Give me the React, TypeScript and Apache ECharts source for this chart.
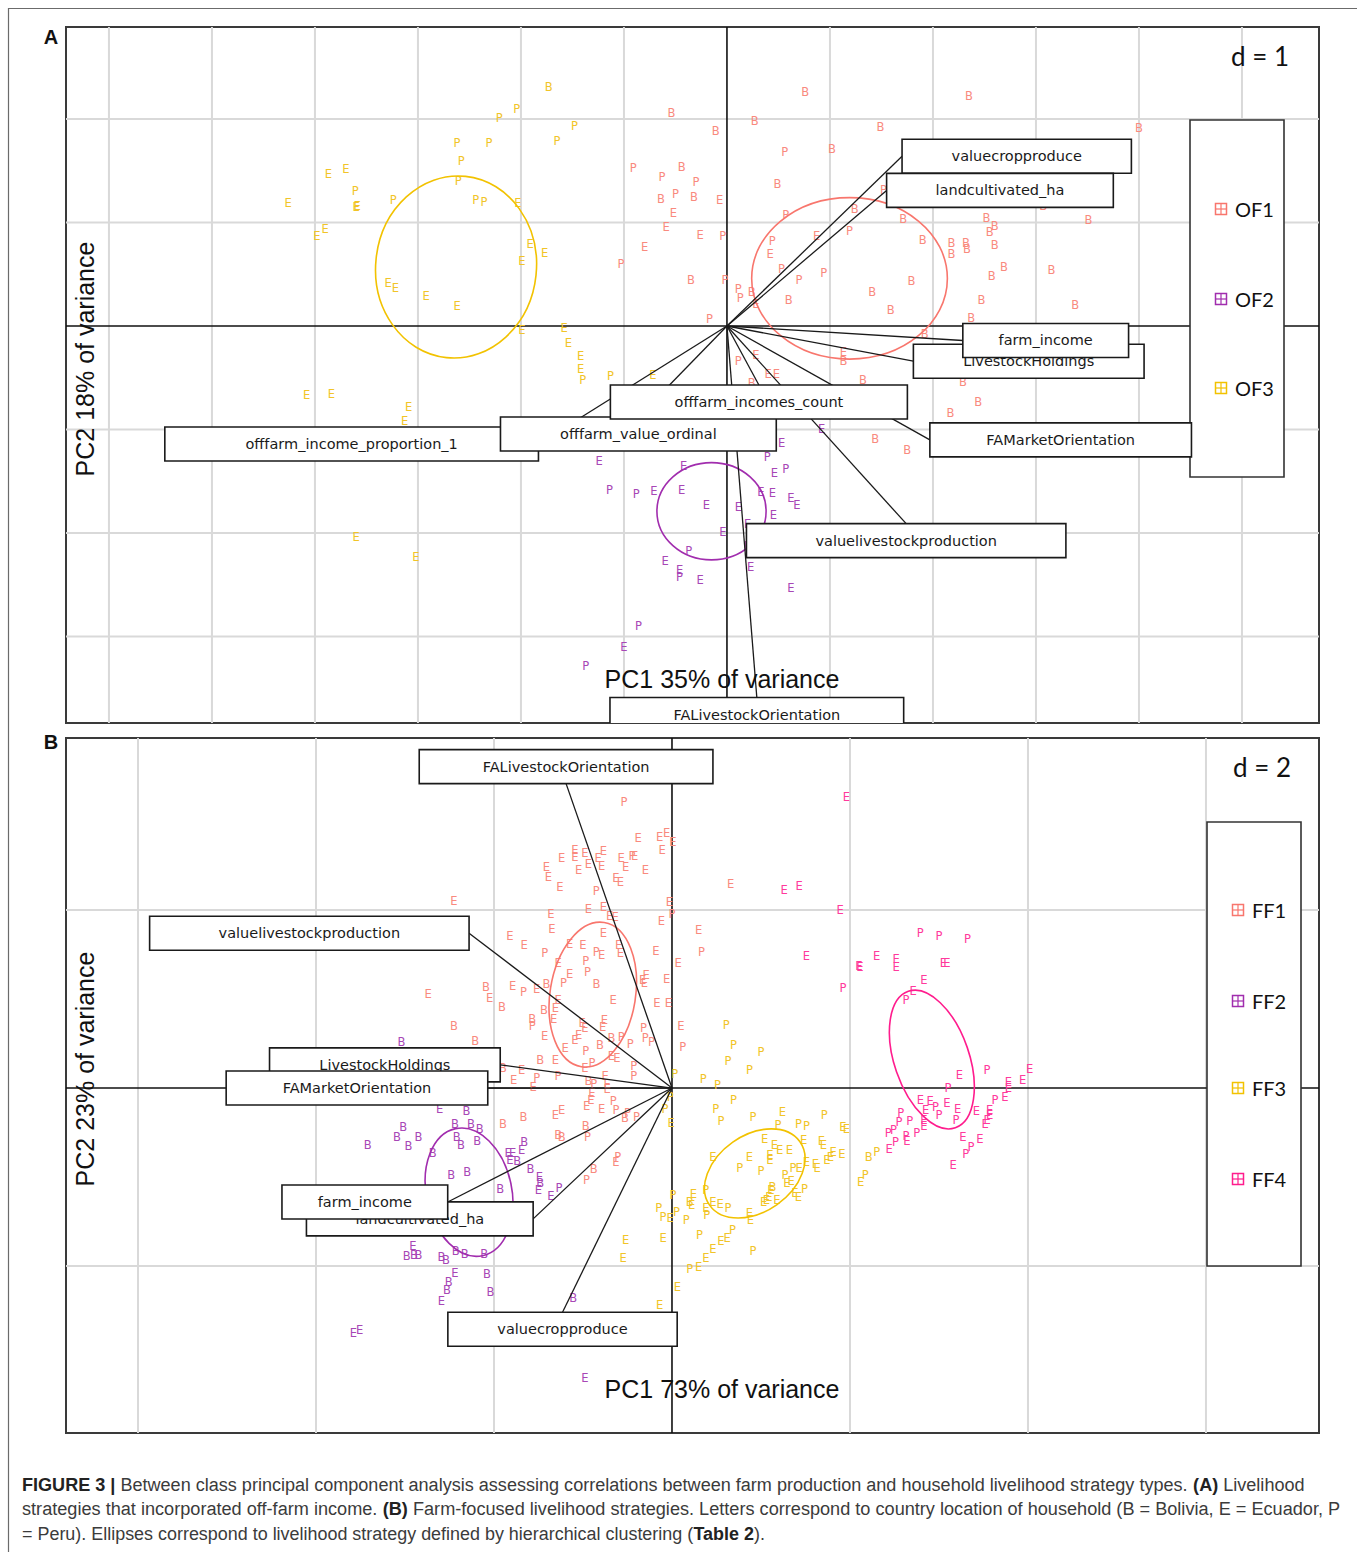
import React, { useEffect, useRef } from 'react';
import * as echarts from 'echarts';

type Pt = [number, number, string];
type Arrow = [string, number, number];
type Ell = [number, number, number, number, number];

// ---------- Panel A (d = 1) ----------
const A_X_RANGE: [number, number] = [-6.417, 5.748];
const A_Y_RANGE: [number, number] = [-3.836, 2.889];
const A_GRID_X = [-6, -5, -4, -3, -2, -1, 1, 2, 3, 4, 5];
const A_GRID_Y = [-3, -2, -1, 1, 2];
const A_GROUPS = ['OF1', 'OF2', 'OF3'];
const A_X_TITLE = 'PC1 35% of variance';
const A_Y_TITLE = 'PC2 18% of variance';

const OF1_A: Pt[] = [
  [-0.54, 2.06, 'B'], [-0.11, 1.88, 'B'], [-0.91, 1.53, 'P'], [-0.44, 1.54, 'B'], [-0.63, 1.44, 'P'], [-0.30, 1.39, 'P'],
  [-0.64, 1.23, 'B'], [-0.50, 1.28, 'P'], [-0.32, 1.25, 'B'], [-0.07, 1.22, 'E'], [-0.52, 1.09, 'E'], [-0.59, 0.96, 'E'],
  [-0.26, 0.88, 'E'], [-0.04, 0.87, 'P'], [-0.80, 0.76, 'E'], [-1.03, 0.60, 'P'], [-0.35, 0.44, 'B'], [-0.02, 0.44, 'P'],
  [-0.17, 0.07, 'P'], [0.76, 2.26, 'B'], [2.35, 2.22, 'B'], [0.27, 1.98, 'B'], [1.49, 1.92, 'B'], [4.00, 1.91, 'B'],
  [0.56, 1.68, 'P'], [1.02, 1.71, 'B'], [0.49, 1.37, 'B'], [1.52, 1.31, 'P'], [3.07, 1.16, 'B'], [0.57, 1.07, 'P'],
  [1.24, 1.13, 'B'], [1.71, 1.03, 'B'], [2.52, 1.04, 'B'], [2.60, 0.97, 'B'], [2.55, 0.91, 'B'], [3.51, 1.02, 'B'],
  [1.19, 0.92, 'P'], [0.87, 0.87, 'E'], [0.44, 0.82, 'P'], [0.42, 0.70, 'E'], [1.90, 0.83, 'B'], [2.18, 0.80, 'B'],
  [2.32, 0.80, 'B'], [2.18, 0.70, 'B'], [2.33, 0.74, 'B'], [2.60, 0.78, 'B'], [2.69, 0.57, 'B'], [3.15, 0.54, 'B'],
  [2.57, 0.48, 'B'], [0.53, 0.55, 'P'], [0.94, 0.51, 'P'], [0.70, 0.44, 'P'], [1.79, 0.43, 'B'], [1.41, 0.33, 'B'],
  [0.60, 0.25, 'B'], [1.59, 0.15, 'B'], [2.47, 0.25, 'B'], [3.38, 0.20, 'B'], [2.37, 0.08, 'B'], [0.11, 0.36, 'P'],
  [0.13, 0.27, 'P'], [0.24, 0.33, 'B'], [0.28, 0.21, 'E'], [1.92, -0.08, 'B'], [1.13, -0.25, 'E'], [1.13, -0.34, 'B'],
  [0.11, -0.34, 'P'], [0.28, -0.28, 'E'], [0.40, -0.46, 'E'], [0.48, -0.46, 'E'], [1.32, -0.52, 'B'], [2.29, -0.54, 'B'],
  [2.44, -0.73, 'B'], [2.17, -0.84, 'B'], [0.24, -0.55, 'B'], [1.44, -1.09, 'B'], [1.75, -1.20, 'B'],
];

const OF2_A: Pt[] = [
  [0.92, -1.00, 'E'], [0.53, -1.13, 'E'], [0.39, -1.27, 'P'], [0.46, -1.42, 'E'], [0.57, -1.38, 'P'], [-1.14, -1.58, 'P'],
  [-0.88, -1.62, 'P'], [-0.71, -1.59, 'E'], [-0.44, -1.58, 'E'], [-0.42, -1.35, 'E'], [-1.24, -1.30, 'E'], [0.33, -1.60, 'E'],
  [0.44, -1.61, 'E'], [0.62, -1.66, 'E'], [0.68, -1.73, 'E'], [-0.20, -1.73, 'E'], [0.11, -1.75, 'E'], [0.45, -1.83, 'E'],
  [0.20, -1.91, 'E'], [-0.04, -1.99, 'E'], [0.20, -2.13, 'E'], [-0.37, -2.17, 'P'], [-0.60, -2.27, 'E'], [-0.46, -2.36, 'E'],
  [-0.46, -2.43, 'P'], [-0.26, -2.45, 'E'], [0.23, -2.33, 'E'], [0.62, -2.53, 'E'], [-0.86, -2.90, 'P'], [-1.00, -3.10, 'E'],
  [-1.37, -3.29, 'P'],
];

const OF3_A: Pt[] = [
  [-1.73, 2.31, 'B'], [-2.04, 2.10, 'P'], [-2.21, 2.01, 'P'], [-1.48, 1.93, 'P'], [-1.65, 1.79, 'P'], [-2.62, 1.77, 'P'],
  [-2.31, 1.77, 'P'], [-2.58, 1.59, 'P'], [-3.70, 1.52, 'E'], [-3.87, 1.47, 'E'], [-2.61, 1.40, 'P'], [-3.61, 1.30, 'P'],
  [-3.24, 1.22, 'P'], [-2.44, 1.22, 'P'], [-2.36, 1.20, 'P'], [-4.26, 1.19, 'E'], [-3.60, 1.15, 'E'], [-3.59, 1.16, 'E'],
  [-2.03, 1.19, 'E'], [-3.90, 0.94, 'E'], [-3.98, 0.87, 'E'], [-1.91, 0.79, 'E'], [-1.77, 0.71, 'E'], [-1.99, 0.63, 'E'],
  [-3.29, 0.42, 'E'], [-3.22, 0.37, 'E'], [-2.92, 0.29, 'E'], [-2.62, 0.19, 'E'], [-1.99, -0.04, 'E'], [-1.58, -0.02, 'E'],
  [-1.54, -0.16, 'E'], [-1.42, -0.29, 'E'], [-1.42, -0.42, 'E'], [-1.40, -0.52, 'P'], [-1.13, -0.48, 'P'], [-0.72, -0.47, 'E'],
  [-4.08, -0.67, 'E'], [-3.84, -0.66, 'E'], [-3.09, -0.78, 'E'], [-3.13, -0.92, 'E'], [-3.60, -2.04, 'E'], [-3.02, -2.23, 'E'],
];

// cx, cy, rx, ry, rotation (deg, anticlockwise)
const ELLIPSES_A: Ell[] = [
  [1.19, 0.46, 0.95, 0.78, 0],
  [-0.15, -1.79, 0.53, 0.47, 0],
  [-2.63, 0.57, 0.78, 0.88, -6],
];

// drawing order = stacking order of the label boxes
const ARROWS_A: Arrow[] = [
  ['valuecropproduce', 1.70, 1.64],
  ['landcultivated_ha', 1.55, 1.31],
  ['LivestockHoldings', 1.81, -0.34],
  ['farm_income', 2.29, -0.14],
  ['FAMarketOrientation', 1.97, -1.10],
  ['valuelivestockproduction', 1.74, -1.91],
  ['offfarm_income_proportion_1', -1.83, -1.14],
  ['offfarm_value_ordinal', -0.86, -0.88],
  ['offfarm_incomes_count', 0.31, -0.57],
  ['FALivestockOrientation', 0.29, -3.59],
];

// ---------- Panel B (d = 2) ----------
const B_X_RANGE: [number, number] = [-6.809, 7.27];
const B_Y_RANGE: [number, number] = [-3.876, 3.933];
const B_GRID_X = [-6, -4, -2, 2, 4, 6];
const B_GRID_Y = [-2, 2];
const B_GROUPS = ['FF1', 'FF2', 'FF3', 'FF4'];
const B_X_TITLE = 'PC1 73% of variance';
const B_Y_TITLE = 'PC2 23% of variance';

const FF1_B: Pt[] = [
  [-0.54, 3.21, 'P'], [-2.45, 2.10, 'E'], [-0.38, 2.81, 'E'], [-0.14, 2.82, 'E'], [-0.06, 2.86, 'E'], [0.01, 2.76, 'E'],
  [-0.11, 2.68, 'E'], [-1.09, 2.67, 'E'], [-1.09, 2.60, 'E'], [-0.98, 2.64, 'E'], [-1.24, 2.59, 'E'], [-0.77, 2.66, 'E'],
  [-0.83, 2.58, 'E'], [-0.79, 2.49, 'E'], [-0.94, 2.52, 'E'], [-1.05, 2.45, 'E'], [-0.57, 2.58, 'E'], [-0.45, 2.61, 'P'],
  [-0.42, 2.61, 'E'], [-0.52, 2.48, 'E'], [-0.30, 2.45, 'E'], [-1.41, 2.48, 'E'], [-1.39, 2.37, 'E'], [-1.26, 2.26, 'E'],
  [-0.63, 2.36, 'E'], [-0.58, 2.31, 'E'], [-0.85, 2.21, 'P'], [-0.03, 2.09, 'E'], [-0.94, 2.01, 'E'], [-0.77, 2.03, 'E'],
  [-1.36, 1.96, 'E'], [-1.35, 1.79, 'E'], [-0.70, 1.93, 'E'], [-0.64, 1.92, 'E'], [-0.12, 1.88, 'E'], [0.00, 1.96, 'P'],
  [0.30, 1.78, 'E'], [-1.82, 1.71, 'E'], [-1.66, 1.61, 'E'], [-0.77, 1.74, 'E'], [-1.15, 1.62, 'E'], [-1.00, 1.61, 'E'],
  [-1.43, 1.52, 'P'], [-0.85, 1.53, 'P'], [-0.79, 1.49, 'E'], [-0.60, 1.61, 'E'], [-0.18, 1.54, 'E'], [-0.58, 1.52, 'E'],
  [0.66, 2.29, 'E'], [0.33, 1.53, 'P'], [0.07, 1.40, 'E'], [-0.29, 1.27, 'E'], [-0.33, 1.21, 'E'], [-0.06, 1.23, 'E'],
  [-0.66, 0.99, 'E'], [-0.17, 0.96, 'E'], [-0.04, 0.96, 'E'], [-2.74, 1.06, 'E'], [-2.09, 1.13, 'B'], [-2.05, 1.01, 'E'],
  [-1.91, 0.91, 'B'], [-2.45, 0.70, 'B'], [-2.21, 0.53, 'B'], [-1.79, 1.15, 'E'], [-1.67, 1.08, 'P'], [-1.52, 1.11, 'E'],
  [-1.41, 1.17, 'B'], [-1.28, 1.41, 'E'], [-0.97, 1.43, 'P'], [-1.15, 1.28, 'E'], [-1.22, 1.18, 'P'], [-0.95, 1.30, 'P'],
  [-0.85, 1.17, 'B'], [-1.28, 0.99, 'E'], [-1.31, 0.90, 'E'], [-1.44, 0.88, 'B'], [-1.33, 0.78, 'E'], [-1.57, 0.78, 'B'],
  [-1.57, 0.70, 'P'], [-1.01, 0.73, 'E'], [-0.98, 0.68, 'E'], [-0.76, 0.76, 'E'], [-0.78, 0.69, 'E'], [-1.43, 0.58, 'E'],
  [-1.09, 0.54, 'E'], [-1.05, 0.60, 'E'], [-0.97, 0.42, 'P'], [-0.81, 0.48, 'B'], [-0.68, 0.56, 'B'], [-0.57, 0.57, 'P'],
  [-0.47, 0.49, 'P'], [-1.20, 0.45, 'E'], [-0.68, 0.36, 'E'], [-0.62, 0.34, 'E'], [-1.31, 0.32, 'E'], [-1.48, 0.31, 'B'],
  [-1.90, 0.23, 'B'], [-1.69, 0.20, 'E'], [-1.78, 0.09, 'E'], [-1.52, 0.11, 'P'], [-1.28, 0.13, 'P'], [-0.98, 0.22, 'E'],
  [-0.90, 0.28, 'P'], [-0.43, 0.25, 'P'], [-0.43, 0.13, 'P'], [-0.75, 0.13, 'E'], [-0.73, 0.05, 'E'], [-0.73, -0.01, 'E'],
  [-0.94, 0.08, 'B'], [-0.88, 0.05, 'P'], [-1.56, 0.01, 'E'], [-0.90, -0.06, 'E'], [-0.91, -0.13, 'E'], [-0.96, -0.20, 'E'],
  [-0.66, -0.15, 'P'], [-0.79, -0.24, 'E'], [-0.63, -0.25, 'P'], [-0.50, -0.28, 'P'], [-0.53, -0.34, 'B'], [-0.40, -0.32, 'P'],
  [-1.24, -0.25, 'E'], [-1.31, -0.30, 'E'], [-1.67, -0.32, 'B'], [-1.90, -0.40, 'B'], [-0.31, 1.18, 'E'], [0.10, 0.70, 'E'],
  [0.12, 0.46, 'P'], [-0.32, 0.67, 'P'], [-0.30, 0.56, 'P'], [-0.23, 0.52, 'P'], [-0.97, -0.43, 'B'], [-0.95, -0.55, 'P'],
  [-1.28, -0.53, 'B'], [-1.24, -0.55, 'B'], [-0.61, -0.77, 'P'], [-0.63, -0.83, 'E'], [-0.88, -0.91, 'B'], [-0.96, -1.03, 'P'],
];

const FF2_B: Pt[] = [
  [-3.04, 0.52, 'B'], [-2.61, -0.23, 'E'], [-2.31, -0.26, 'B'], [-3.02, -0.44, 'B'], [-3.09, -0.55, 'B'], [-2.96, -0.65, 'B'],
  [-2.85, -0.55, 'B'], [-3.42, -0.64, 'B'], [-2.44, -0.40, 'B'], [-2.26, -0.40, 'B'], [-2.16, -0.46, 'B'], [-2.42, -0.55, 'B'],
  [-2.37, -0.64, 'B'], [-2.19, -0.59, 'B'], [-2.69, -0.73, 'B'], [-2.48, -0.98, 'B'], [-2.30, -0.94, 'B'], [-1.82, -0.81, 'E'],
  [-1.84, -0.73, 'E'], [-1.74, -0.82, 'B'], [-1.79, -0.73, 'E'], [-1.69, -0.70, 'E'], [-1.66, -0.61, 'B'], [-1.59, -0.91, 'B'],
  [-1.49, -1.00, 'E'], [-1.48, -1.07, 'B'], [-1.50, -1.15, 'E'], [-1.36, -1.21, 'E'], [-1.27, -1.12, 'P'], [-1.93, -1.14, 'B'],
  [-2.91, -1.78, 'E'], [-2.98, -1.89, 'B'], [-2.90, -1.88, 'B'], [-2.85, -1.88, 'B'], [-2.59, -1.90, 'B'], [-2.54, -1.93, 'B'],
  [-2.43, -1.83, 'B'], [-2.33, -1.87, 'B'], [-2.11, -1.86, 'B'], [-2.44, -2.08, 'E'], [-2.51, -2.18, 'B'], [-2.53, -2.27, 'B'],
  [-2.59, -2.39, 'E'], [-2.08, -2.09, 'B'], [-2.04, -2.29, 'B'], [-1.11, -2.36, 'B'], [-3.58, -2.75, 'E'], [-3.51, -2.72, 'E'],
  [-0.98, -3.26, 'E'],
];

const FF3_B: Pt[] = [
  [0.61, 0.71, 'P'], [0.69, 0.48, 'P'], [1.00, 0.41, 'P'], [0.63, 0.30, 'P'], [0.87, 0.20, 'P'], [0.03, 0.16, 'P'],
  [0.35, 0.10, 'P'], [0.51, 0.03, 'P'], [0.69, -0.13, 'P'], [-0.02, -0.10, 'P'], [-0.08, -0.23, 'P'], [-0.01, -0.39, 'E'],
  [0.49, -0.24, 'P'], [0.55, -0.37, 'P'], [0.91, -0.33, 'P'], [1.24, -0.27, 'E'], [1.71, -0.30, 'P'], [1.19, -0.42, 'P'],
  [1.42, -0.40, 'P'], [1.51, -0.43, 'P'], [1.92, -0.44, 'E'], [1.96, -0.46, 'E'], [1.04, -0.57, 'E'], [1.15, -0.64, 'E'],
  [1.21, -0.70, 'E'], [1.32, -0.70, 'E'], [1.10, -0.75, 'E'], [1.10, -0.81, 'E'], [1.48, -0.58, 'E'], [1.68, -0.60, 'E'],
  [1.70, -0.64, 'E'], [1.81, -0.72, 'E'], [1.91, -0.74, 'E'], [1.78, -0.77, 'E'], [1.74, -0.81, 'E'], [1.51, -0.83, 'E'],
  [1.61, -0.85, 'E'], [1.63, -0.90, 'E'], [0.46, -0.77, 'E'], [0.87, -0.78, 'E'], [0.76, -0.90, 'P'], [1.00, -0.93, 'P'],
  [1.27, -0.98, 'P'], [1.36, -0.90, 'P'], [1.43, -0.90, 'E'], [1.34, -1.05, 'E'], [1.29, -1.07, 'E'], [1.49, -1.13, 'P'],
  [1.38, -1.18, 'E'], [1.42, -1.22, 'E'], [1.13, -1.11, 'B'], [1.11, -1.15, 'E'], [1.09, -1.22, 'E'], [1.06, -1.26, 'E'],
  [1.03, -1.28, 'E'], [1.18, -1.26, 'E'], [0.46, -1.28, 'E'], [0.54, -1.30, 'E'], [0.63, -1.35, 'P'], [0.87, -1.40, 'E'],
  [0.88, -1.48, 'E'], [2.21, -0.78, 'B'], [2.30, -0.72, 'P'], [2.12, -1.06, 'E'], [2.17, -0.98, 'P'], [0.38, -1.15, 'P'],
  [0.24, -1.19, 'E'], [0.20, -1.28, 'B'], [0.22, -1.31, 'E'], [0.01, -1.20, 'P'], [-0.15, -1.35, 'P'], [-0.10, -1.45, 'P'],
  [-0.02, -1.46, 'E'], [0.05, -1.39, 'P'], [0.16, -1.48, 'P'], [0.39, -1.43, 'P'], [0.38, -1.35, 'E'], [0.31, -1.65, 'P'],
  [-0.10, -1.69, 'E'], [0.68, -1.59, 'P'], [0.62, -1.69, 'E'], [0.55, -1.72, 'E'], [0.46, -1.81, 'E'], [0.38, -1.91, 'E'],
  [0.30, -2.01, 'E'], [0.20, -2.03, 'P'], [0.91, -1.83, 'P'], [-0.52, -1.71, 'E'], [-0.55, -1.91, 'E'], [0.06, -2.24, 'E'],
  [-0.14, -2.44, 'E'],
];

const FF4_B: Pt[] = [
  [1.96, 3.27, 'E'], [1.26, 2.22, 'E'], [1.43, 2.27, 'E'], [1.89, 2.00, 'E'], [1.51, 1.48, 'E'], [2.10, 1.37, 'E'],
  [2.11, 1.36, 'E'], [2.30, 1.48, 'E'], [2.52, 1.45, 'E'], [2.52, 1.36, 'E'], [2.79, 1.74, 'P'], [3.00, 1.71, 'P'],
  [3.32, 1.67, 'P'], [3.05, 1.41, 'E'], [3.09, 1.41, 'E'], [2.83, 1.21, 'E'], [1.92, 1.12, 'P'], [2.71, 1.09, 'E'],
  [2.63, 0.99, 'P'], [3.23, 0.15, 'E'], [3.54, 0.20, 'P'], [3.78, 0.07, 'E'], [3.78, 0.00, 'E'], [3.94, 0.09, 'E'],
  [4.02, 0.21, 'E'], [3.10, 0.00, 'P'], [3.74, -0.10, 'E'], [3.63, -0.13, 'P'], [2.79, -0.13, 'E'], [2.90, -0.15, 'E'],
  [2.96, -0.21, 'P'], [3.09, -0.17, 'E'], [3.21, -0.23, 'E'], [2.85, -0.25, 'E'], [3.00, -0.30, 'P'], [3.42, -0.26, 'E'],
  [3.57, -0.25, 'E'], [3.57, -0.30, 'E'], [3.54, -0.36, 'E'], [3.52, -0.40, 'E'], [3.19, -0.36, 'P'], [2.83, -0.36, 'E'],
  [2.83, -0.43, 'E'], [2.57, -0.28, 'P'], [2.55, -0.38, 'P'], [2.67, -0.37, 'P'], [2.49, -0.47, 'P'], [2.43, -0.51, 'P'],
  [2.63, -0.54, 'P'], [2.75, -0.51, 'P'], [2.64, -0.60, 'E'], [2.51, -0.61, 'P'], [2.44, -0.68, 'E'], [3.27, -0.55, 'E'],
  [3.46, -0.57, 'E'], [3.36, -0.66, 'P'], [3.30, -0.74, 'P'], [3.16, -0.86, 'E'],
];

const ELLIPSES_B: Ell[] = [
  [-0.89, 1.05, 0.48, 0.82, -9],
  [-2.28, -1.17, 0.48, 0.73, 12],
  [0.93, -0.96, 0.62, 0.43, 35],
  [2.92, 0.32, 0.42, 0.81, 19],
];

const ARROWS_B: Arrow[] = [
  ['FALivestockOrientation', -1.19, 3.42],
  ['valuelivestockproduction', -2.28, 1.74],
  ['LivestockHoldings', -1.93, 0.26],
  ['FAMarketOrientation', -2.07, 0.0],
  ['landcultivated_ha', -1.56, -1.47],
  ['farm_income', -2.52, -1.28],
  ['valuecropproduce', -1.23, -2.52],
];

const CAPTION_LINES = [
  '{b|FIGURE 3 |} Between class principal component analysis assessing correlations between farm production and household livelihood strategy types. {b|(A)} Livelihood',
  'strategies that incorporated off-farm income. {b|(B)} Farm-focused livelihood strategies. Letters correspond to country location of household (B = Bolivia, E = Ecuador, P',
  '= Peru). Ellipses correspond to livelihood strategy defined by hierarchical clustering ({b|Table 2}).',
];

// ---------- styles / layout ----------
const GROUP_COLORS = ['#F8766D', '#A12DAE', '#F2C200', '#FF1C8D'];
const LETTER_COLORS = ['#F98A7E', '#A847B6', '#F1C428', '#FF3A9C'];
const BOX_FONT_SIZE = 14.5;
const BOX_FONT_FAMILY = 'DejaVu Sans';
const BOX_W_FACTOR = 1.76;
const BOX_H = 34;
const SANS = "'Liberation Sans', Arial, sans-serif";
const CAP_SIZE = 19;
const CAP_FAMILY = "'Liberation Sans', Arial, sans-serif";
const CAP_LINE_WIDTHS = [1282, 1319, 743];

let measureCtx: any = null;
function textWidth(s: string, font: string): number {
  if (!measureCtx) measureCtx = document.createElement('canvas').getContext('2d');
  measureCtx.font = font;
  return measureCtx.measureText(s).width;
}

function richWidth(line: string): number {
  let w = 0;
  const re = /\{b\|([^}]*)\}/g;
  let last = 0;
  let m: RegExpExecArray | null;
  while ((m = re.exec(line))) {
    w += textWidth(line.slice(last, m.index), `${CAP_SIZE}px 'Liberation Sans'`);
    w += textWidth(m[1], `bold ${CAP_SIZE}px 'Liberation Sans'`);
    last = m.index + m[0].length;
  }
  w += textWidth(line.slice(last), `${CAP_SIZE}px 'Liberation Sans'`);
  return w;
}

function ruleSeries(xs: number[], ys: number[], idx: number, color: string, width: number, z: number) {
  const items: [number, number, number][] = [
    ...xs.map((v) => [v, 0, 0] as [number, number, number]),
    ...ys.map((v) => [0, v, 1] as [number, number, number]),
  ];
  return {
    type: 'custom', coordinateSystem: 'cartesian2d', xAxisIndex: idx, yAxisIndex: idx, z, silent: true,
    data: items.map((d) => [d[0], d[1]]),
    renderItem: (params: any, api: any) => {
      const it = items[params.dataIndex];
      const cs = params.coordSys;
      const p = api.coord([it[0], it[1]]);
      const shape = it[2] === 0
        ? { x1: p[0], y1: cs.y, x2: p[0], y2: cs.y + cs.height }
        : { x1: cs.x, y1: p[1], x2: cs.x + cs.width, y2: p[1] };
      return { type: 'line', shape, style: { stroke: color, lineWidth: width } };
    },
  };
}

function pointSeries(pts: Pt[], color: string, idx: number) {
  return {
    type: 'custom', coordinateSystem: 'cartesian2d', xAxisIndex: idx, yAxisIndex: idx, z: 3, silent: true, clip: true,
    data: pts.map((p) => [p[0], p[1]]),
    renderItem: (params: any, api: any) => {
      const c = api.coord([api.value(0), api.value(1)]);
      return {
        type: 'text', x: c[0], y: c[1],
        style: { text: pts[params.dataIndex][2], fill: color, fontSize: 11.5, fontFamily: 'DejaVu Sans', align: 'center', verticalAlign: 'middle' },
      };
    },
  };
}

function ellipseSeries(ells: Ell[], idx: number) {
  return {
    type: 'custom', coordinateSystem: 'cartesian2d', xAxisIndex: idx, yAxisIndex: idx, z: 4, silent: true, clip: true,
    data: ells.map((e) => [e[0], e[1]]),
    renderItem: (params: any, api: any) => {
      const e = ells[params.dataIndex];
      const c = api.coord([e[0], e[1]]);
      const s = api.size([e[2], e[3]]);
      return {
        type: 'ellipse', x: c[0], y: c[1], rotation: (e[4] * Math.PI) / 180,
        shape: { cx: 0, cy: 0, rx: s[0], ry: s[1] },
        style: { fill: 'none', stroke: GROUP_COLORS[params.dataIndex], lineWidth: 1.6 },
      };
    },
  };
}

function arrowLineSeries(arrows: Arrow[], idx: number) {
  return {
    type: 'custom', coordinateSystem: 'cartesian2d', xAxisIndex: idx, yAxisIndex: idx, z: 5, silent: true, clip: true,
    data: arrows.map((a) => [a[1], a[2]]),
    renderItem: (params: any, api: any) => {
      const o = api.coord([0, 0]);
      const t = api.coord([api.value(0), api.value(1)]);
      return { type: 'line', shape: { x1: o[0], y1: o[1], x2: t[0], y2: t[1] }, style: { stroke: '#1a1a1a', lineWidth: 1.3 } };
    },
  };
}

function boxSeries(arrows: Arrow[], idx: number) {
  return {
    type: 'custom', coordinateSystem: 'cartesian2d', xAxisIndex: idx, yAxisIndex: idx, z: 8, silent: true, clip: true,
    data: arrows.map((a) => [a[1], a[2]]),
    renderItem: (params: any, api: any) => {
      const a = arrows[params.dataIndex];
      const x = a[1];
      const y = a[2];
      const t = api.coord([x, y]);
      const w = textWidth(a[0], `${BOX_FONT_SIZE}px "${BOX_FONT_FAMILY}"`) * BOX_W_FACTOR;
      const h = BOX_H;
      let cx: number;
      let cy: number;
      if (x > y && x > -y) { cx = t[0] + w / 2; cy = t[1]; }
      else if (x > y) { cx = t[0]; cy = t[1] + h / 2; }
      else if (x <= -y) { cx = t[0] - w / 2; cy = t[1]; }
      else { cx = t[0]; cy = t[1] - h / 2; }
      return {
        type: 'group',
        children: [
          { type: 'rect', shape: { x: cx - w / 2, y: cy - h / 2, width: w, height: h }, style: { fill: '#fff', stroke: '#1a1a1a', lineWidth: 1.6 } },
          { type: 'text', x: cx, y: cy, style: { text: a[0], fill: '#1a1a1a', fontSize: BOX_FONT_SIZE, fontFamily: BOX_FONT_FAMILY, align: 'center', verticalAlign: 'middle' } },
        ],
      };
    },
  };
}

function legendGraphic(groups: string[], box: { x: number; y: number; width: number; height: number }, ys: number[], iconX: number) {
  const Z = 6;
  const children: any[] = [
    { type: 'rect', z: Z, shape: box, style: { fill: '#fff', stroke: '#333', lineWidth: 1.6 } },
  ];
  groups.forEach((g, i) => {
    const c = GROUP_COLORS[i];
    const y = ys[i];
    children.push({ type: 'rect', z: Z + 1, shape: { x: iconX - 5.5, y: y - 5.5, width: 11, height: 11 }, style: { fill: 'none', stroke: c, lineWidth: 1.5 } });
    children.push({ type: 'line', z: Z + 1, shape: { x1: iconX, y1: y - 5.5, x2: iconX, y2: y + 5.5 }, style: { stroke: c, lineWidth: 1.2 } });
    children.push({ type: 'line', z: Z + 1, shape: { x1: iconX - 5.5, y1: y, x2: iconX + 5.5, y2: y }, style: { stroke: c, lineWidth: 1.2 } });
    children.push({ type: 'text', z: Z + 1, x: iconX + 14, y, style: { text: g, fill: '#111', fontSize: 20, fontFamily: 'Lato, sans-serif', align: 'left', verticalAlign: 'middle' } });
  });
  return { type: 'group', z: Z, children };
}

function textGraphic(text: string, x: number, y: number, size: number, opts: any = {}) {
  return {
    type: 'text', z: 100, x, y, rotation: opts.rotation || 0,
    style: {
      text, fill: opts.fill || '#111', fontSize: size, fontFamily: opts.family || SANS,
      fontWeight: opts.weight || 'normal', align: opts.align || 'center', verticalAlign: 'middle',
    },
  };
}

function buildOption() {
  const captionGraphics = CAPTION_LINES.map((line, i) => {
    const w = richWidth(line);
    const sx = w > 0 ? CAP_LINE_WIDTHS[i] / w : 1;
    return {
      type: 'text', z: 100, x: 22, y: 1484 + i * 24.5, scaleX: Math.min(sx, 1.05),
      style: {
        text: line, fill: '#3b3b3b', fontSize: CAP_SIZE, fontFamily: CAP_FAMILY, align: 'left', verticalAlign: 'middle',
        rich: { b: { fontWeight: 'bold', fill: '#222', fontSize: CAP_SIZE, fontFamily: CAP_FAMILY } },
      },
    };
  });

  return {
    animation: false,
    backgroundColor: '#fff',
    grid: [
      { left: 66, top: 27, width: 1253, height: 696, show: true, backgroundColor: '#fff', borderColor: '#3a3a3a', borderWidth: 2 },
      { left: 66, top: 738, width: 1253, height: 695, show: true, backgroundColor: '#fff', borderColor: '#3a3a3a', borderWidth: 2 },
    ],
    xAxis: [
      { gridIndex: 0, type: 'value', min: A_X_RANGE[0], max: A_X_RANGE[1], show: false },
      { gridIndex: 1, type: 'value', min: B_X_RANGE[0], max: B_X_RANGE[1], show: false },
    ],
    yAxis: [
      { gridIndex: 0, type: 'value', min: A_Y_RANGE[0], max: A_Y_RANGE[1], show: false },
      { gridIndex: 1, type: 'value', min: B_Y_RANGE[0], max: B_Y_RANGE[1], show: false },
    ],
    series: [
      ruleSeries(A_GRID_X, A_GRID_Y, 0, '#d9d9d9', 2, 1),
      ruleSeries([0], [0], 0, '#111', 1.6, 2),
      pointSeries(OF1_A, LETTER_COLORS[0], 0),
      pointSeries(OF2_A, LETTER_COLORS[1], 0),
      pointSeries(OF3_A, LETTER_COLORS[2], 0),
      ellipseSeries(ELLIPSES_A, 0),
      arrowLineSeries(ARROWS_A, 0),
      boxSeries(ARROWS_A, 0),

      ruleSeries(B_GRID_X, B_GRID_Y, 1, '#d9d9d9', 2, 1),
      ruleSeries([0], [0], 1, '#111', 1.6, 2),
      pointSeries(FF1_B, LETTER_COLORS[0], 1),
      pointSeries(FF2_B, LETTER_COLORS[1], 1),
      pointSeries(FF3_B, LETTER_COLORS[2], 1),
      pointSeries(FF4_B, LETTER_COLORS[3], 1),
      ellipseSeries(ELLIPSES_B, 1),
      arrowLineSeries(ARROWS_B, 1),
      boxSeries(ARROWS_B, 1),
    ],
    graphic: [
      { type: 'rect', z: 90, shape: { x: 8.5, y: 8.5, width: 1400, height: 1600 }, style: { fill: 'none', stroke: '#6b6b6b', lineWidth: 1.2 } },
      textGraphic('A', 51, 37, 20, { weight: 'bold' }),
      textGraphic('B', 51, 742, 20, { weight: 'bold' }),
      textGraphic('d = 1', 1260, 56, 26, { family: 'Lato, sans-serif' }),
      textGraphic('d = 2', 1262, 767, 26, { family: 'Lato, sans-serif' }),
      textGraphic(A_X_TITLE, 722, 679, 25),
      textGraphic(B_X_TITLE, 722, 1389, 25),
      textGraphic(A_Y_TITLE, 85, 359, 25, { rotation: Math.PI / 2 }),
      textGraphic(B_Y_TITLE, 85, 1069, 25, { rotation: Math.PI / 2 }),
      legendGraphic(A_GROUPS, { x: 1190, y: 120, width: 94, height: 357 }, [209, 299, 388], 1221),
      legendGraphic(B_GROUPS, { x: 1207, y: 822, width: 94, height: 444 }, [910, 1001, 1088, 1179], 1238),
      ...captionGraphics,
    ],
  };
}

export default function App() {
  const ref = useRef<HTMLDivElement>(null);
  useEffect(() => {
    if (!ref.current) return;
    const chart = echarts.init(ref.current, undefined, { renderer: 'svg' });
    chart.setOption(buildOption() as any);
    return () => chart.dispose();
  }, []);
  return (
    <div
      ref={ref}
      style={{ position: 'absolute', left: 0, top: 0, width: 1357, height: 1552, background: '#fff' }}
    />
  );
}
